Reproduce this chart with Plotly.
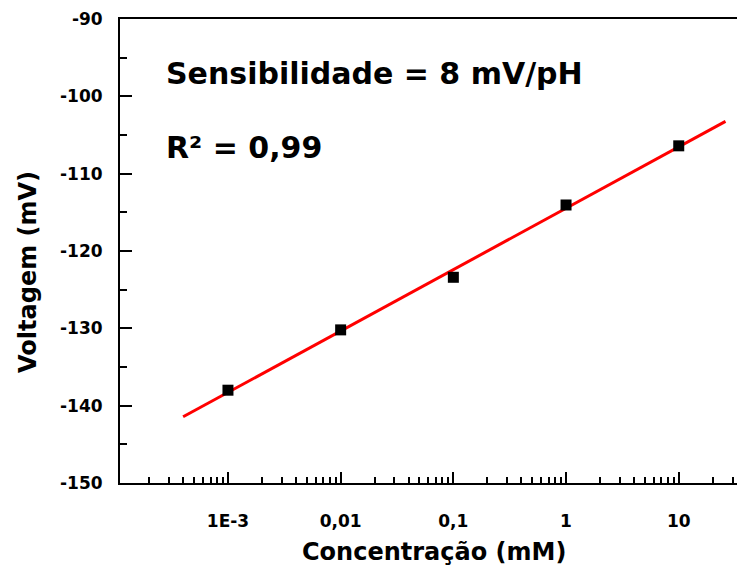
import numpy as np
import plotly.graph_objects as go

# Measured potential vs. concentration
concentracao = [1e-3, 1e-2, 1e-1, 1.0, 10.0]
voltagem = [-138.0, -130.2, -123.4, -114.05, -106.4]

# Span of the fitted line (mM)
fit_inicio = 4.0e-4
fit_fim = 26.0

# Tick labels
x_tickvals = [1e-3, 1e-2, 1e-1, 1, 10]
x_ticktext = ["1E-3", "0,01", "0,1", "1", "10"]
y_tickvals = [-150, -140, -130, -120, -110, -100, -90]
y_ticktext = ["-150", "-140", "-130", "-120", "-110", "-100", "-90"]

# Linear fit of voltage against log10(concentration)
coef = np.polyfit(np.log10(concentracao), voltagem, 1)
fit_x = np.logspace(np.log10(fit_inicio), np.log10(fit_fim), 50)
fit_y = np.polyval(coef, np.log10(fit_x))

FONT = "DejaVu Sans, Arial, sans-serif"

fig = go.Figure()
fig.add_trace(go.Scatter(
    x=fit_x, y=fit_y, mode="lines",
    line=dict(color="#ff0000", width=3), showlegend=False,
))
fig.add_trace(go.Scatter(
    x=concentracao, y=voltagem, mode="markers",
    marker=dict(symbol="square", size=11, color="black"), showlegend=False,
))

# Minor ticks at 2..9 of each decade
minor_x = [m * 10.0 ** d for d in range(-4, 3) for m in range(2, 10)]

fig.update_layout(
    width=737, height=572,
    margin=dict(l=120, r=0, t=19, b=89),
    paper_bgcolor="white", plot_bgcolor="white",
    font=dict(family=FONT, color="black"),
    xaxis=dict(
        type="log", range=[-3.958, 1.517],
        tickvals=x_tickvals, ticktext=x_ticktext,
        ticks="inside", ticklen=11, tickwidth=2, tickcolor="black",
        showline=True, linewidth=2, linecolor="black", mirror=True,
        showgrid=False, zeroline=False,
        tickfont=dict(family=FONT, size=17, color="black", weight="bold"),
        ticklabelstandoff=22,
        minor=dict(tickvals=minor_x, ticks="inside", ticklen=6,
                   tickwidth=2, tickcolor="black", showgrid=False),
    ),
    yaxis=dict(
        range=[-150, -90],
        tickvals=y_tickvals, ticktext=y_ticktext,
        ticks="inside", ticklen=12, tickwidth=2, tickcolor="black",
        showline=True, linewidth=2, linecolor="black", mirror=False,
        showgrid=False, zeroline=False,
        tickfont=dict(family=FONT, size=17, color="black", weight="bold"),
        ticklabelstandoff=12,
        minor=dict(dtick=5, ticks="inside", ticklen=7, tickwidth=2,
                   tickcolor="black", showgrid=False),
    ),
    annotations=[
        dict(text="<b>Voltagem (mV)</b>", textangle=-90,
             xref="paper", yref="paper", x=-0.149, y=0.455,
             xanchor="center", yanchor="middle", showarrow=False,
             font=dict(family=FONT, size=24, color="black")),
        dict(text="<b>Concentração (mM)</b>",
             xref="paper", yref="paper", x=0.509, y=-0.149,
             xanchor="center", yanchor="middle", showarrow=False,
             font=dict(family=FONT, size=24, color="black")),
        dict(text="<b>Sensibilidade = 8 mV/pH</b>",
             xref="paper", yref="paper", x=0.072, y=0.883,
             xanchor="left", yanchor="middle", showarrow=False,
             font=dict(family=FONT, size=30, color="black")),
        dict(text="<b>R² = 0,99</b>",
             xref="paper", yref="paper", x=0.072, y=0.724,
             xanchor="left", yanchor="middle", showarrow=False,
             font=dict(family=FONT, size=30, color="black")),
    ],
)

fig.write_html("out.html")
